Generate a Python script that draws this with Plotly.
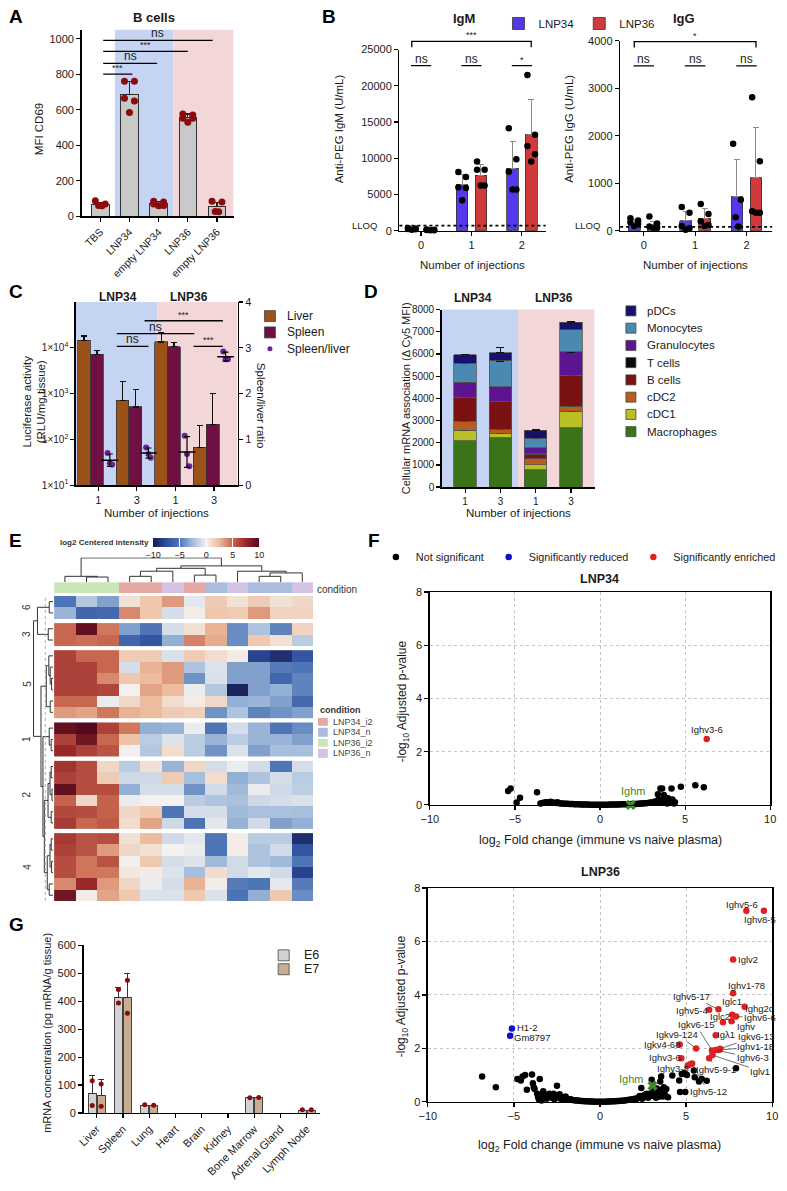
import plotly.graph_objects as go

W, H = 787, 1191
FONT = "Liberation Sans, Arial, Helvetica, sans-serif"


def xd(a, b):
    return [a / W, b / W]


def yd(top, bot):
    return [1 - bot / H, 1 - top / H]


def px(x):
    return x / W


def py(y):
    return 1 - y / H


BLUE_BG = "#c6d4f3"
PINK_BG = "#f3d6d8"
C34 = "#5638ec"
C36 = "#d03a3b"
DOT_RED = "#8b0a0a"

# ---------------- Panel A ----------------
a_cats = ["TBS", "LNP34", "empty LNP34", "LNP36", "empty LNP36"]
a_means = [70, 684, 72, 556, 55]
a_sd = [10, 76, 12, 20, 25]
a_pts = [[88, 70, 62, 60], [760, 760, 665, 650, 585], [85, 82, 70, 62, 60],
         [576, 570, 552, 552, 530], [85, 82, 28, 26]]
a_sig_x0 = [0.1, 0.1, 0.1, 0.1]
a_sig_x1 = [1.1, 1.95, 3.0, 3.85]
a_sig_y = [800, 861, 928, 990]
a_sig_txt = ["***", "ns", "***", "ns"]

# ---------------- Panel B ----------------
b_groups = [0, 1, 2]
igm34_mean = [250, 6320, 8650]
igm34_sd = [120, 1400, 3650]
igm36_mean = [110, 7650, 13250]
igm36_sd = [80, 1450, 4800]
igm34_pts = [[360, 300, 250, 200, 150], [8100, 7400, 6000, 5900, 4200], [14150, 9850, 8150, 5700, 5700]]
igm36_pts = [[180, 120, 100, 80, 50], [9550, 8400, 8400, 6250, 6250], [21500, 13250, 11700, 10550, 9550]]
igg34_mean = [150, 210, 710]
igg34_sd = [80, 200, 790]
igg36_mean = [100, 266, 1110]
igg36_sd = [100, 200, 1070]
igg34_pts = [[260, 215, 180, 140, 100], [500, 380, 100, 50, 20], [1830, 650, 285, 90]]
igg36_pts = [[300, 150, 90, 70, 60], [560, 350, 200, 120, 100], [2810, 1460, 410, 380, 380]]
igm_lloq = 700
igg_lloq = 80
igm_pair_txt = ["ns", "ns", "*"]
igm_pair_y = 22770
igm_span_y = 26130
igm_span_txt = "***"
igg_pair_txt = ["ns", "ns", "ns"]
igg_pair_y = 3470
igg_span_y = 3980
igg_span_txt = "*"

# ---------------- Panel C ----------------
c_groups = ["1", "3", "1", "3"]
liver_mean = [14500, 715, 13400, 67]
liver_err = [3600, 1130, 8000, 137]
spleen_mean = [7260, 510, 10600, 211]
spleen_err = [1590, 740, 2400, 780]
ratio_pts = [[0.7, 0.48, 0.45], [0.82, 0.68, 0.6], [1.08, 0.68, 0.41], [2.92, 2.75, 2.75]]
c_sig_x0 = [0.48, 2.47, 0.48, 1.2]
c_sig_x1 = [1.3, 3.23, 2.49, 3.23]
c_sig_y = [3.03, 3.03, 3.31, 3.59]
c_sig_txt = ["ns", "***", "ns", "***"]
c_leg_names = ["Liver", "Spleen", "Spleen/liver"]
c_leg_colors = ["#9a5219", "#700f41", "#6b2198"]

# ---------------- Panel D ----------------
d_groups = ["1", "3", "1", "3"]
d_types = ["Macrophages", "cDC1", "cDC2", "B cells", "T cells", "Granulocytes", "Monocytes", "pDCs"]
d_colors = ["#3b7318", "#b9bf25", "#b55c1e", "#7a1212", "#0a0a0a", "#5d1491", "#4a8ab0", "#17116e"]
mac = [2085, 2230, 775, 2680]
cdc1 = [480, 190, 240, 740]
cdc2 = [400, 180, 270, 230]
bcell = [1070, 1240, 180, 1380]
tcell = [20, 15, 30, 20]
gran = [670, 660, 270, 1040]
mono = [850, 1170, 430, 1000]
pdc = [400, 370, 375, 340]
mac_sd = [470, 190, 15, 0]
cdc1_sd = [0, 180, 20, 120]
cdc2_sd = [130, 0, 30, 80]
bcell_sd = [330, 220, 30, 440]
tcell_sd = [0, 0, 0, 0]
gran_sd = [150, 440, 20, 520]
mono_sd = [0, 0, 20, 0]
pdc_sd = [20, 220, 40, 25]

# ---------------- Panel E ----------------
e_group_names = ["6", "3", "5", "1", "2", "4"]
e_group_sizes = [2, 2, 6, 3, 6, 6]
e_rows = [
    [-5, -2, -3.5, 0.8, 2, 3.5, -0.5, 1.8, 0.8, 1.8, 0.8, 1.2],
    [-2.8, -6, -5.8, 4, 2, -1, 0.3, 2, 1.8, 3.5, 1.4, 1.4],
    [5, 9.5, 4.5, -3.5, -5, -1, 0.8, 2.8, -4.2, -2.2, -4.5, 1.4],
    [5, 4.8, 5, -6, -7, -3, 4.2, 3, -4.2, 1.9, 0.8, -1.8],
    [6.5, 5, 5, 1.8, 1.8, -0.8, 1.8, 1, 0.3, -8, -9, -7],
    [6.5, 6.5, 5, -1, 2.8, 3.5, -2.2, -0.7, -3.5, -3.5, -4.8, -5],
    [6.5, 6.5, 4, 2, 2.5, 3.5, -4, -0.8, -3.5, -3.5, -6, -4.5],
    [6.5, 6.5, 6.3, 0.1, 3.2, 2.5, -0.3, -2, -9.5, -3.5, -3, -4.5],
    [5, 5, -0.3, 1.2, 2.5, 1, 0.3, 1.2, -3, -2.8, -3.5, -5.8],
    [3.5, 3.2, 4.5, 2.8, 2.5, 1.8, 1.6, -4, -2.2, -4.5, -4, -3.5],
    [9.5, 10, 6.5, 4.5, -3, -2.8, -0.3, -5, -1, -2.8, -5, -4.2],
    [6.5, 9, 5, 2.2, -1.8, -0.7, -1.8, -2.8, -1.8, -2.8, -2.8, -3.5],
    [7.5, 6.5, 5.8, -0.1, -2, 1, -1.8, -4, -0.8, -3.5, -2.4, -2.4],
    [7, 6, 1.3, -1.8, 0.8, -2.8, 1.3, -1, -0.3, -1.1, -5, -1],
    [6.5, 6, 1.8, -1.2, -1.2, 1.8, -2.4, 1, -3, -2.2, -1, -1.8],
    [9.5, 6, 6, -3, -1, -1, -4, -1.1, -2.6, -0.3, -1.2, -1.7],
    [5.2, 1.2, 5.2, -0.3, 0, 0, -1.8, -2.2, -2.3, -1.2, -1, -0.8],
    [6.2, 6, 5.2, 1.3, 2, -5, -1, -1, -2.6, -2.3, -2.3, -2.4],
    [6.8, 5, 5.5, 1, 3.2, -1.2, -5.2, -0.5, -2.9, -1.1, -3.5, -3],
    [6.8, 5.8, 6, 0.8, 2.5, -1.1, -0.5, -5, 0.3, -1.8, -1.8, -9],
    [6.5, 5.8, 3.5, 1.3, 0.8, 0, -0.3, -5, 0.3, -2.2, -1.1, -7],
    [6, 4.6, 5.8, -0.1, 1.9, -1, -0.7, -2.6, -1.1, -2.2, -2.6, -5],
    [6, 4.6, 4.5, 0.5, 0.3, -0.7, -2.4, 1, -1.1, -0.5, -1.1, -8],
    [4, 7.5, 3.5, 1.3, -0.3, -1, 2.8, 0.3, -4.8, -5, -0.5, -4.8],
    [9, 0.3, 3.2, 1.9, -0.7, -0.8, 1.9, -0.8, -5.2, -3, 1.9, -4.2],
]
cond_names = ["LNP34_i2", "LNP34_n", "LNP36_i2", "LNP36_n"]
cond_colors = ["#e5a8a2", "#aabdde", "#cae6b6", "#d4c3e2"]
cond_cols = [2, 2, 2, 0, 0, 3, 0, 1, 3, 1, 1, 3]
top_link = [(1, 2, 0.21), (0, 12, 0.24), (3, 4, 0.24), (6, 7, 0.29), (14, 5, 0.45), (16, 15, 0.57),
            (9, 10, 0.24), (18, 11, 0.38), (8, 19, 0.45), (17, 20, 0.67), (13, 21, 1.0)]
left_link = [(0, 1, 0.2), (2, 3, 0.25), (25, 26, 0.8), (6, 7, 0.08), (5, 28, 0.15), (4, 29, 0.22),
             (8, 9, 0.15), (30, 31, 0.35), (11, 12, 0.1), (10, 33, 0.2), (13, 14, 0.1), (15, 16, 0.06),
             (35, 36, 0.16), (17, 18, 0.1), (37, 38, 0.26), (19, 20, 0.1), (21, 22, 0.08), (40, 41, 0.16),
             (23, 24, 0.2), (42, 43, 0.3), (39, 44, 0.45), (34, 45, 0.52), (32, 46, 0.62), (27, 47, 1.0)]

# ---------------- Panel F ----------------
ns34 = [(-5.4, 0.52), (-5.25, 0.62), (-4.9, 0.09), (-4.7, 0.27), (-3.7, 0.47),
        (-3.5, 0.05), (-3.4, 0.07), (-3.3, 0.08), (-3.2, 0.1), (-3.1, 0.1), (-3.0, 0.08), (-2.9, 0.12),
        (-2.8, 0.09), (-2.7, 0.08), (-2.6, 0.07), (-2.5, 0.1), (-2.4, 0.06), (-2.3, 0.05), (-2.2, 0.05),
        (-2.1, 0.04), (-2.0, 0.04), (-1.9, 0.04), (-1.8, 0.03), (-1.7, 0.03), (-1.6, 0.03), (-1.5, 0.02),
        (-1.4, 0.02), (-1.3, 0.02), (-1.2, 0.02), (-1.1, 0.01), (-1.0, 0.01), (-0.9, 0.01), (-0.8, 0.01),
        (-0.7, 0.01), (-0.6, 0.0), (-0.5, 0.0), (-0.4, 0.0), (-0.3, 0.0), (-0.2, 0.0), (-0.1, 0.0),
        (0.0, 0.0), (0.1, 0.0), (0.2, 0.0), (0.3, 0.0), (0.4, 0.0), (0.5, 0.0), (0.6, 0.01), (0.7, 0.01),
        (0.8, 0.01), (0.9, 0.01), (1.0, 0.01), (1.1, 0.01), (1.2, 0.02), (1.3, 0.02), (1.4, 0.02),
        (1.5, 0.02), (1.6, 0.02), (1.7, 0.02), (1.8, 0.03), (1.9, 0.03), (2.0, 0.03), (2.1, 0.03),
        (2.2, 0.04), (2.3, 0.04), (2.4, 0.05), (2.5, 0.05), (2.6, 0.06), (2.7, 0.06), (2.8, 0.07),
        (2.9, 0.08), (3.0, 0.09), (3.1, 0.1), (3.2, 0.12), (3.25, 0.08), (3.3, 0.14), (3.4, 0.4),
        (3.45, 0.2), (3.5, 0.1), (3.55, 0.62), (3.6, 0.15), (3.65, 0.62), (3.7, 0.08), (3.75, 0.37),
        (3.8, 0.3), (3.85, 0.12), (3.9, 0.2), (3.95, 0.05), (4.0, 0.25), (4.05, 0.1), (4.1, 0.15),
        (4.2, 0.62), (4.25, 0.2), (4.3, 0.12), (4.35, 0.05), (4.4, 0.1), (4.75, 0.68), (5.6, 0.74),
        (6.1, 0.66)]
red34_names = ["Ighv3-6"]
red34_x = [6.27]
red34_y = [2.48]
ighm34 = (1.8, 0.0)
ns36 = [(-6.85, 0.95), (-6.05, 0.55), (-4.8, 0.85), (-4.6, 0.8), (-4.5, 0.95), (-4.35, 1.0), (-4.25, 0.45),
        (-3.95, 1.02), (-3.9, 0.7), (-3.85, 0.55), (-3.8, 0.48), (-3.65, 0.3), (-3.6, 0.18), (-3.55, 0.1),
        (-3.5, 0.85), (-3.45, 0.15), (-3.4, 0.05), (-3.35, 0.3), (-3.3, 0.4), (-3.25, 0.22), (-3.15, 0.25),
        (-3.1, 0.12), (-3.0, 0.2), (-2.95, 0.3), (-2.85, 0.25), (-2.8, 0.15), (-2.7, 0.3), (-2.65, 0.1),
        (-2.55, 0.2), (-2.5, 0.6), (-2.45, 0.25), (-2.35, 0.28), (-2.3, 0.12), (-2.2, 0.18), (-2.1, 0.1),
        (-2.0, 0.2), (-1.9, 0.12), (-1.8, 0.08), (-1.7, 0.1), (-1.6, 0.07), (-1.5, 0.06), (-1.4, 0.05),
        (-1.3, 0.05), (-1.2, 0.04), (-1.1, 0.03), (-1.0, 0.03), (-0.9, 0.02), (-0.8, 0.02), (-0.7, 0.02),
        (-0.6, 0.01), (-0.5, 0.01), (-0.4, 0.01), (-0.3, 0.0), (-0.2, 0.0), (-0.1, 0.0), (0.0, 0.0),
        (0.1, 0.0), (0.2, 0.0), (0.3, 0.0), (0.4, 0.01), (0.5, 0.01), (0.6, 0.01), (0.7, 0.02), (0.8, 0.02),
        (0.9, 0.02), (1.0, 0.03), (1.1, 0.03), (1.2, 0.04), (1.3, 0.04), (1.4, 0.05), (1.5, 0.06),
        (1.6, 0.07), (1.7, 0.08), (1.8, 0.09), (1.9, 0.1), (2.0, 0.12), (2.1, 0.1), (2.2, 0.15), (2.3, 0.22),
        (2.4, 0.52), (2.45, 0.12), (2.55, 0.25), (2.6, 0.18), (2.7, 0.3), (2.8, 0.15), (2.9, 0.3),
        (2.95, 0.22), (3.0, 0.83), (3.05, 0.4), (3.1, 0.25), (3.2, 0.28), (3.25, 0.15), (3.3, 0.5),
        (3.4, 0.3), (3.45, 0.2), (3.5, 0.76), (3.55, 0.95), (3.6, 0.45), (3.65, 0.2), (3.7, 0.55),
        (3.75, 0.3), (3.8, 0.22), (3.85, 0.48), (3.95, 0.17), (4.2, 0.99), (4.6, 0.8), (4.65, 0.37),
        (4.75, 1.04), (4.9, 1.08), (4.95, 0.37), (5.05, 1.0), (5.45, 1.17), (5.5, 0.92), (5.75, 0.76),
        (5.9, 0.86), (6.2, 0.79), (7.9, 1.26)]
blue36_names = ["H1-2", "Gm8797"]
blue36_x = [-5.12, -5.22]
blue36_y = [2.74, 2.47]
red36_names = ["Ighv5-6", "Ighv8-5", "Iglv2", "Ighv1-78", "Ighg2c", "Ighv5-17", "Ighv5-4", "Iglc1",
               "Ighv6-6", "Iglc2", "Ighv", "Igλ1", "Igkv6-15", "Igkv9-124", "Igkv4-68", "Igkv6-13",
               "Ighv1-18", "Ighv6-3", "Iglv1", "Ighv5-9-1", "Ighv3-6", "Ighv3-8", "Ighv5-12", ""]
red36_x = [8.5, 9.52, 7.73, 7.73, 8.4, 6.88, 6.34, 7.68, 7.9, 7.14, 7.64, 6.72, 6.5, 5.58, 4.63, 6.97,
           6.91, 6.72, 6.53, 6.34, 4.72, 5.24, 5.35, 5.1]
red36_y = [7.15, 7.15, 5.33, 4.06, 3.56, 3.46, 3.45, 3.26, 3.19, 2.98, 3.02, 2.49, 1.92, 2.0, 2.15, 1.99,
           1.94, 1.94, 1.75, 1.63, 1.63, 1.41, 1.43, 1.36]
# label placement (pixel offsets of the label centre, leader line flag)
red36_dx = [-4, -4, 15, 13, 15, -27, -17, 0, 24, -3, 14, 10, -16, -19, -18, 36, 37, 37, 48, 7, -16, -17, 16, 0]
red36_dy = [-6, 9, 0, -8, 2, -13, 1, -13, 1, -6, 5, -1, -26, -14, 0, -12, -3, 8, 16, 11, -1, 4, 28, 0]
red36_line = [0, 0, 0, 0, 0, 1, 0, 0, 1, 0, 1, 0, 1, 1, 0, 1, 1, 1, 1, 1, 0, 0, 1, 0]
ighm36 = (3.05, 0.6)

# ---------------- Panel G ----------------
g_organs = ["Liver", "Spleen", "Lung", "Heart", "Brain", "Kidney", "Bone Marrow", "Adrenal Gland", "Lymph Node"]
e6_mean = [71, 415, 28, 0, 0, 0, 55, 0, 10]
e6_err = [62, 35, 0, 0, 0, 0, 0, 0, 0]
e7_mean = [64, 415, 26, 0, 0, 0, 56, 0, 10]
e7_err = [56, 85, 0, 0, 0, 0, 0, 0, 0]
e6_pts = [[116, 27], [442, 394], [30], [], [], [], [55], [], [12]]
e7_pts = [[104, 24], [475, 357], [28], [], [], [], [56], [], [12]]
g_leg_names = ["E6", "E7"]
g_colors = ["#d2d2d2", "#c8ae91"]

# ======================================================================
fig = go.Figure()
annotations = []
shapes = []


def ann(text, x, y, size=11, bold=False, xanchor="center", yanchor="middle", xref="paper", yref="paper",
        textangle=0, color="#1a1a1a", **kw):
    if bold:
        text = "<b>" + text + "</b>"
    d = dict(text=text, x=x, y=y, xref=xref, yref=yref, showarrow=False,
             font=dict(size=size, color=color, family=FONT), xanchor=xanchor, yanchor=yanchor,
             textangle=textangle)
    d.update(kw)
    annotations.append(d)


def pann(text, xp, yp, **kw):
    ann(text, px(xp), py(yp), **kw)


def spread(n, w):
    pats = {1: [0], 2: [-0.5, 0.5], 3: [-1, 0, 1], 4: [-1, 1, -0.35, 0.35], 5: [-1, 1, -1, 1, 0]}
    return [p * w for p in pats[n]]


def dots(groups_x, pts, w, xa, ya, color, size):
    xs, ys = [], []
    for gx, p in zip(groups_x, pts):
        if not p:
            continue
        for o, v in zip(spread(len(p), w), p):
            xs.append(gx + o)
            ys.append(v)
    fig.add_trace(go.Scatter(x=xs, y=ys, mode="markers", xaxis=xa, yaxis=ya, showlegend=False,
                             cliponaxis=False, marker=dict(color=color, size=size, opacity=1,
                                                           line=dict(width=0))))


def bracket_lines(x0s, x1s, ys, xa, ya, tick=0.0):
    xs, yy = [], []
    for a, b, y in zip(x0s, x1s, ys):
        if tick:
            xs += [a, a, b, b, None]
            yy += [y - tick, y, y, y - tick, None]
        else:
            xs += [a, b, None]
            yy += [y, y, None]
    fig.add_trace(go.Scatter(x=xs, y=yy, mode="lines", xaxis=xa, yaxis=ya, showlegend=False,
                             line=dict(color="black", width=1.3), hoverinfo="skip"))


def sig_text(x0s, x1s, ys, txts, xref, yref):
    for a, b, y, t in zip(x0s, x1s, ys, txts):
        ann(t, (a + b) / 2, y, size=(12 if t == "ns" else 9), xref=xref, yref=yref, yanchor="bottom",
            yshift=-2 if t == "ns" else -1)


def bg(xref, yref, x0, x1, color):
    shapes.append(dict(type="rect", xref=xref, yref=yref, x0=x0, x1=x1, y0=0, y1=1,
                       fillcolor=color, line=dict(width=0), layer="below"))


def key(names, colors, symbols, sizes, xa, ya, text_x, font_size):
    """Legend key drawn as markers on a hidden axis, one row per entry."""
    n = len(names)
    fig.add_trace(go.Scatter(x=[0] * n, y=list(range(n)), mode="markers", xaxis=xa, yaxis=ya,
                             showlegend=False, cliponaxis=False, hoverinfo="skip",
                             marker=dict(color=colors, symbol=symbols, size=sizes, opacity=1,
                                         line=dict(color="#444", width=[0.8 if s == "square" else 0
                                                                        for s in symbols]))))
    for i, nm in enumerate(names):
        ann(nm, px(text_x), i, size=font_size, xanchor="left", yref=ya)


# ---------------- Panel A traces ----------------
a_x = list(range(len(a_cats)))
fig.add_trace(go.Bar(x=a_x, y=a_means, width=0.6, xaxis="x", yaxis="y", showlegend=False,
                     marker=dict(color="#c9c9c9", line=dict(color="#333", width=1)),
                     error_y=dict(type="data", array=a_sd, arrayminus=[0] * 5, symmetric=False,
                                  color="#222", thickness=1.2, width=4)))
dots(a_x, a_pts, 0.17, "x", "y", DOT_RED, 7)
bracket_lines(a_sig_x0, a_sig_x1, a_sig_y, "x", "y")
sig_text(a_sig_x0, a_sig_x1, a_sig_y, a_sig_txt, "x", "y")
bg("x", "y domain", 0.5, 2.5, BLUE_BG)
bg("x", "y domain", 2.5, 4.57, PINK_BG)

# ---------------- Panel B traces ----------------
b_off, b_w = 0.185, 0.23
bx34 = [g - b_off for g in b_groups]
bx36 = [g + b_off for g in b_groups]
for xa, ya, m34, s34, m36, s36, p34, p36, leg in [
        ("x2", "y2", igm34_mean, igm34_sd, igm36_mean, igm36_sd, igm34_pts, igm36_pts, True),
        ("x3", "y3", igg34_mean, igg34_sd, igg36_mean, igg36_sd, igg34_pts, igg36_pts, False)]:
    fig.add_trace(go.Bar(x=bx34, y=m34, width=b_w, name="LNP34", xaxis=xa, yaxis=ya, showlegend=leg,
                         legend="legend", marker=dict(color=C34, line=dict(color="#333", width=0.8)),
                         error_y=dict(type="data", array=s34, arrayminus=[0] * 3, symmetric=False,
                                      color="#8a8a8a", thickness=1, width=3)))
    fig.add_trace(go.Bar(x=bx36, y=m36, width=b_w, name="LNP36", xaxis=xa, yaxis=ya, showlegend=leg,
                         legend="legend", marker=dict(color=C36, line=dict(color="#333", width=0.8)),
                         error_y=dict(type="data", array=s36, arrayminus=[0] * 3, symmetric=False,
                                      color="#8a8a8a", thickness=1, width=3)))
    dots(bx34, p34, 0.075, xa, ya, "black", 6.5)
    dots(bx36, p36, 0.075, xa, ya, "black", 6.5)

shapes.append(dict(type="line", xref="x2 domain", yref="y2", x0=0, x1=1, y0=igm_lloq, y1=igm_lloq,
                   line=dict(color="black", width=1.8, dash="dot")))
shapes.append(dict(type="line", xref="x3 domain", yref="y3", x0=0, x1=1, y0=igg_lloq, y1=igg_lloq,
                   line=dict(color="black", width=1.8, dash="dot")))
for xa, ya, yref, pair_y, pair_txt, span_y, span_txt, tick in [
        ("x2", "y14", "y14", igm_pair_y, igm_pair_txt, igm_span_y, igm_span_txt, 820),
        ("x3", "y15", "y15", igg_pair_y, igg_pair_txt, igg_span_y, igg_span_txt, 125)]:
    bx0 = [g - 0.2 for g in b_groups]
    bx1 = [g + 0.2 for g in b_groups]
    bracket_lines(bx0, bx1, [pair_y] * 3, xa, ya)
    sig_text(bx0, bx1, [pair_y] * 3, pair_txt, xa, yref)
    bracket_lines([bx34[0]], [bx36[-1]], [span_y], xa, ya, tick=tick)
    sig_text([bx34[0]], [bx36[-1]], [span_y], [span_txt], xa, yref)

# ---------------- Panel C traces ----------------
c_x = list(range(len(c_groups)))
liv_x = [g - 0.37 for g in c_x]
spl_x = [g - 0.035 for g in c_x]
rat_x = [g + 0.3 for g in c_x]
fig.add_trace(go.Bar(x=liv_x, y=liver_mean, width=0.33, name="Liver", xaxis="x4", yaxis="y4",
                     showlegend=False, marker=dict(color=c_leg_colors[0], line=dict(color="#333", width=0.8)),
                     error_y=dict(type="data", array=liver_err, arrayminus=[0] * 4, symmetric=False,
                                  color="#111", thickness=1.2, width=3)))
fig.add_trace(go.Bar(x=spl_x, y=spleen_mean, width=0.33, name="Spleen", xaxis="x4", yaxis="y4",
                     showlegend=False, marker=dict(color=c_leg_colors[1], line=dict(color="#333", width=0.8)),
                     error_y=dict(type="data", array=spleen_err, arrayminus=[0] * 4, symmetric=False,
                                  color="#111", thickness=1.2, width=3)))
rx, ry = [], []
for gx, p in zip(rat_x, ratio_pts):
    for o, v in zip(spread(len(p), 0.06), p):
        rx.append(gx + o)
        ry.append(v)
fig.add_trace(go.Scatter(x=rx, y=ry, mode="markers", name="Spleen/liver", xaxis="x4", yaxis="y5",
                         showlegend=False, cliponaxis=False,
                         marker=dict(color=c_leg_colors[2], size=6, opacity=1)))
r_mean = [sum(p) / len(p) for p in ratio_pts]
r_sd = [(sum((v - m) ** 2 for v in p) / (len(p) - 1)) ** 0.5 for p, m in zip(ratio_pts, r_mean)]
fig.add_trace(go.Scatter(x=rat_x, y=r_mean, mode="markers", xaxis="x4", yaxis="y5", showlegend=False,
                         marker=dict(symbol="line-ew", size=12, line=dict(color="black", width=1.5)),
                         error_y=dict(type="data", array=r_sd, color="black", thickness=1.2, width=3)))
bracket_lines(c_sig_x0, c_sig_x1, c_sig_y, "x4", "y5")
sig_text(c_sig_x0, c_sig_x1, c_sig_y, c_sig_txt, "x4", "y5")
bg("x4", "y4 domain", -0.585, 1.53, BLUE_BG)
bg("x4", "y4 domain", 1.53, 3.61, PINK_BG)
key(c_leg_names, c_leg_colors, ["square", "square", "circle"], [11, 11, 5], "x17", "y17", 281, 12)

# ---------------- Panel D traces ----------------
d_x = list(range(len(d_groups)))
d_vals = [mac, cdc1, cdc2, bcell, tcell, gran, mono, pdc]
d_errs = [mac_sd, cdc1_sd, cdc2_sd, bcell_sd, tcell_sd, gran_sd, mono_sd, pdc_sd]
for name, col, v, e in zip(d_types, d_colors, d_vals, d_errs):
    fig.add_trace(go.Bar(x=d_x, y=v, width=0.64, name=name, xaxis="x6", yaxis="y6", showlegend=False,
                         marker=dict(color=col, line=dict(color="#555", width=0.8)),
                         error_y=dict(type="data", array=e, arrayminus=[0] * 4, symmetric=False,
                                      color="#111", thickness=1.1, width=4)))
bg("x6", "y6 domain", -0.667, 1.5, BLUE_BG)
bg("x6", "y6 domain", 1.5, 3.67, PINK_BG)
key(d_types[::-1], d_colors[::-1], ["square"] * 8, [10] * 8, "x18", "y18", 648, 11.5)

# ---------------- Panel E traces ----------------
E_CS = [[0, "#161b4d"], [0.125, "#2f4d9e"], [0.25, "#4e76b6"], [0.375, "#a3bddb"], [0.5, "#f4f2f0"],
        [0.625, "#ecbc9c"], [0.75, "#c8674f"], [0.875, "#99282a"], [1, "#560a1e"]]
gap = 0.4
row_y, grp_center = [], []
pos = 0.0
for n in e_group_sizes:
    for k in range(n):
        row_y.append(pos + k)
    grp_center.append(pos + (n - 1) / 2)
    pos += n + gap
e_total = pos - gap
start = 0
for gi, n in enumerate(e_group_sizes):
    fig.add_trace(go.Heatmap(z=e_rows[start:start + n], x=list(range(12)), y=row_y[start:start + n],
                             xaxis="x7", yaxis="y7", colorscale=E_CS, zmin=-10, zmax=10,
                             showscale=(gi == 0), hoverinfo="skip",
                             colorbar=dict(orientation="h", x=px(201), xanchor="center", y=py(537),
                                           yanchor="top", len=108 / W, lenmode="fraction", thickness=9,
                                           thicknessmode="pixels", tickvals=[-10, -5, 0, 5, 10],
                                           tickfont=dict(size=9, family=FONT, color="#222"),
                                           outlinewidth=0, ticks="inside", ticklen=9, tickcolor="white",
                                           xpad=0, ypad=0)))
    start += n
n_cond = len(cond_names)
cond_cs = []
for i, c in enumerate(cond_colors):
    cond_cs += [[i / n_cond, c], [(i + 1) / n_cond, c]]
fig.add_trace(go.Heatmap(z=[cond_cols], x=list(range(12)), y=[0], xaxis="x9", yaxis="y9",
                         colorscale=cond_cs, zmin=-0.5, zmax=n_cond - 0.5, showscale=False, hoverinfo="skip"))
fig.add_trace(go.Heatmap(z=[[i] for i in range(n_cond)], x=[0], y=list(range(n_cond)), xaxis="x16",
                         yaxis="y16", colorscale=cond_cs, zmin=-0.5, zmax=n_cond - 0.5, showscale=False,
                         ygap=2, hoverinfo="skip"))
for i, nm in enumerate(cond_names):
    ann(nm, px(328), i, size=9, xanchor="left", yref="y16", color="#444")
pann("condition", 315, 711, size=9, bold=True, xanchor="left", color="#333")


def dendro(link, leaf_pos):
    pos_ = {i: p for i, p in enumerate(leaf_pos)}
    hgt = {i: 0.0 for i in range(len(leaf_pos))}
    nid = len(leaf_pos)
    P, Hh = [], []
    for a, b, h in link:
        P += [pos_[a], pos_[a], pos_[b], pos_[b], None]
        Hh += [hgt[a], h, h, hgt[b], None]
        pos_[nid] = (pos_[a] + pos_[b]) / 2
        hgt[nid] = h
        nid += 1
    return P, Hh


tp, th = dendro(top_link, list(range(12)))
fig.add_trace(go.Scatter(x=tp, y=th, mode="lines", xaxis="x8", yaxis="y8", showlegend=False,
                         line=dict(color="#333", width=1), hoverinfo="skip"))
lp, lh = dendro(left_link, row_y)
fig.add_trace(go.Scatter(x=lh, y=lp, mode="lines", xaxis="x10", yaxis="y10", showlegend=False,
                         line=dict(color="#333", width=1), hoverinfo="skip"))
shapes.append(dict(type="line", xref="x10", yref="y10 domain", x0=0.4, x1=0.4, y0=0, y1=1,
                   line=dict(color="#aaaaaa", width=1, dash="dot")))
for nm, c in zip(e_group_names, grp_center):
    ann(nm, px(18), c, size=10, xref="paper", yref="y10", textangle=-90, color="#333")
pann("log2 Centered intensity", 145, 542, size=8, bold=True, xanchor="right", color="#333")
pann("condition", 312, 589, size=10, xanchor="left", color="#333")

# ---------------- Panel F traces ----------------
for xa, ya, ns, rxs, rys, ighm, leg in [
        ("x11", "y11", ns34, red34_x, red34_y, ighm34, True),
        ("x12", "y12", ns36, red36_x, red36_y, ighm36, False)]:
    fig.add_trace(go.Scatter(x=[p[0] for p in ns], y=[p[1] for p in ns], mode="markers", xaxis=xa,
                             yaxis=ya, name="Not significant", legend="legend4", showlegend=leg,
                             cliponaxis=False, marker=dict(color="black", size=6.5)))
    if not leg:
        fig.add_trace(go.Scatter(x=blue36_x, y=blue36_y, mode="markers", xaxis=xa, yaxis=ya,
                                 name="Significantly reduced", legend="legend4", showlegend=True,
                                 cliponaxis=False, marker=dict(color="#1010c8", size=6.5)))
    fig.add_trace(go.Scatter(x=rxs, y=rys, mode="markers", xaxis=xa, yaxis=ya,
                             name="Significantly enriched", legend="legend4", showlegend=not leg,
                             cliponaxis=False, marker=dict(color="#e02020", size=6.5)))
    fig.add_trace(go.Scatter(x=[ighm[0]], y=[ighm[1]], mode="markers", xaxis=xa, yaxis=ya, showlegend=False,
                             cliponaxis=False, marker=dict(color="#3d8a28", size=9, symbol="x",
                                                           line=dict(width=0))))

ann(red34_names[0], red34_x[0], red34_y[0], size=9.5, xref="x11", yref="y11", yshift=9)
ann("Ighm", ighm34[0], ighm34[1], size=11, xref="x11", yref="y11", yshift=14, xshift=2, color="#3d8a28")
ann("Ighm", ighm36[0], ighm36[1], size=11, xref="x12", yref="y12", yshift=7, xshift=-22, color="#3d8a28")
for nm, x, y, dx, dy in zip(blue36_names, blue36_x, blue36_y, [16, 22], [-1, 2]):
    ann(nm, x, y, size=9.5, xref="x12", yref="y12", xshift=dx, yshift=-dy, xanchor="center")
for nm, x, y, dx, dy, ln in zip(red36_names, red36_x, red36_y, red36_dx, red36_dy, red36_line):
    if not nm:
        continue
    if ln:
        annotations.append(dict(text=nm, x=x, y=y, xref="x12", yref="y12", showarrow=True, arrowhead=0,
                                arrowwidth=0.7, arrowcolor="#333", ax=dx, ay=dy, standoff=2,
                                font=dict(size=9.5, family=FONT, color="#222")))
    else:
        ann(nm, x, y, size=9.5, xref="x12", yref="y12", xshift=dx, yshift=-dy)

# ---------------- Panel G traces ----------------
g_x = list(range(len(g_organs)))
e6_x = [g - 0.17 for g in g_x]
e7_x = [g + 0.17 for g in g_x]
fig.add_trace(go.Bar(x=e6_x, y=e6_mean, width=0.31, name="E6", xaxis="x13", yaxis="y13", showlegend=False,
                     marker=dict(color=g_colors[0], line=dict(color="#444", width=1)),
                     error_y=dict(type="data", array=e6_err, arrayminus=[0] * 9, symmetric=False,
                                  color="#333", thickness=1, width=3)))
fig.add_trace(go.Bar(x=e7_x, y=e7_mean, width=0.31, name="E7", xaxis="x13", yaxis="y13", showlegend=False,
                     marker=dict(color=g_colors[1], line=dict(color="#444", width=1)),
                     error_y=dict(type="data", array=e7_err, arrayminus=[0] * 9, symmetric=False,
                                  color="#333", thickness=1, width=3)))
dots(e6_x, e6_pts, 0.0, "x13", "y13", DOT_RED, 5)
dots(e7_x, e7_pts, 0.0, "x13", "y13", DOT_RED, 5)
key(g_leg_names, g_colors, ["square", "square"], [11, 11], "x19", "y19", 299, 12.5)

# ---------------- text: titles and axis titles ----------------
for t, xx, yy in [("A", 7, 11), ("B", 326, 11), ("C", 7, 288), ("D", 369, 288), ("E", 7, 540),
                  ("F", 372, 540), ("G", 8, 928)]:
    pann(t, xx, yy, size=19, bold=True, color="black")
pann("B cells", 148, 12, size=13, bold=True)
pann("MFI CD69", 30, 124, size=11.5, textangle=-90)
pann("IgM", 464, 13, size=13, bold=True)
pann("IgG", 688, 13, size=13, bold=True)
pann("Anti-PEG IgM (U/mL)", 336, 124, size=11.5, textangle=-90)
pann("Anti-PEG IgG (U/mL)", 571, 124, size=11.5, textangle=-90)
pann("LLOQ", 377, 222, size=9.5, xanchor="right")
pann("LLOQ", 605, 222, size=9.5, xanchor="right")
pann("Number of injections", 472, 262, size=11.5)
pann("Number of injections", 700, 262, size=11.5)
pann("LNP34", 111, 294, size=12, bold=True)
pann("LNP36", 184, 294, size=12, bold=True)
pann("Luciferase activity<br>(RLU/mg tissue)", 26, 400, size=11.5, textangle=-90)
pann("Spleen/liver ratio", 257, 404, size=11.5, textangle=90)
pann("Number of injections", 150, 512, size=11.5)
pann("LNP34", 473, 295, size=12, bold=True)
pann("LNP36", 556, 295, size=12, bold=True)
pann("Cellular mRNA association (Δ Cy5 MFI)", 405, 396, size=11, textangle=-90)
pann("Number of injections", 519, 512, size=11.5)
pann("LNP34", 602, 579, size=12.5, bold=True)
pann("LNP36", 603, 875, size=12.5, bold=True)
pann("-log<sub>10</sub> Adjusted p-value", 402, 702, size=12, textangle=-90)
pann("-log<sub>10</sub> Adjusted p-value", 401, 1000, size=12, textangle=-90)
pann("log<sub>2</sub> Fold change (immune vs naive plasma)", 603, 843, size=12.5)
pann("log<sub>2</sub> Fold change (immune vs naive plasma)", 602, 1152, size=12.5)
pann("mRNA concentration (pg mRNA/g tissue)", 38, 1037, size=11, textangle=-90)

# ---------------- axes ----------------
TF = dict(family=FONT, size=11, color="#1a1a1a")


def AX(**kw):
    d = dict(showgrid=False, zeroline=False, showline=True, linecolor="black", linewidth=1.4,
             ticks="outside", ticklen=4, tickwidth=1.2, tickcolor="black", tickfont=TF)
    d.update(kw)
    return d


def FAX(**kw):
    d = AX(showgrid=True, gridcolor="#c4c4c4", griddash="dot", gridwidth=1, mirror=True)
    d.update(kw)
    return d


HID = dict(visible=False, showgrid=False, zeroline=False)
TF10 = dict(family=FONT, size=10, color="#1a1a1a")
lay = {}
lay["xaxis"] = AX(domain=xd(74, 229), range=[-0.64, 4.57], tickvals=a_x, ticktext=a_cats, tickangle=-45,
                  anchor="y", tickfont=dict(family=FONT, size=10.5, color="#1a1a1a"))
lay["yaxis"] = AX(domain=yd(24, 212.6), range=[0, 1050], tickvals=[0, 200, 400, 600, 800, 1000], anchor="x")
lay["xaxis2"] = AX(domain=xd(398, 547), range=[-0.43, 2.47], tickvals=b_groups, anchor="y2")
lay["yaxis2"] = AX(domain=yd(44, 227), range=[0, 25000], tickvals=[0, 5000, 10000, 15000, 20000, 25000],
                   tickformat="d", anchor="x2")
lay["xaxis3"] = AX(domain=xd(623, 778), range=[-0.46, 2.5], tickvals=b_groups, anchor="y3")
lay["yaxis3"] = AX(domain=yd(35, 227), range=[0, 4000], tickvals=[0, 1000, 2000, 3000, 4000],
                   tickformat="d", anchor="x3")
lay["yaxis14"] = dict(HID, domain=yd(8, 227), range=[0, 219 / 36.6 * 5000], anchor="x2")
lay["yaxis15"] = dict(HID, domain=yd(8, 227), range=[0, 219 / 48 * 1000], anchor="x3")
lay["xaxis4"] = AX(domain=xd(68, 233), range=[-0.585, 3.61], tickvals=c_x, ticktext=c_groups, anchor="y4")
lay["yaxis4"] = AX(domain=yd(299, 484), type="log", range=[1, 5], tickvals=[10, 100, 1000, 10000],
                   ticktext=["1×10<sup>1</sup>", "1×10<sup>2</sup>", "1×10<sup>3</sup>", "1×10<sup>4</sup>"],
                   anchor="x4", tickfont=TF10)
lay["yaxis5"] = AX(range=[0, 4], tickvals=[0, 1, 2, 3, 4], overlaying="y4", side="right", anchor="x4")
lay["xaxis6"] = AX(domain=xd(441, 597), range=[-0.667, 3.67], tickvals=d_x, ticktext=d_groups, anchor="y6",
                   tickfont=TF10)
lay["yaxis6"] = AX(domain=yd(306.7, 486), range=[0, 8000], tick0=0, dtick=1000, anchor="x6", tickfont=TF10)
lay["xaxis7"] = dict(HID, domain=xd(46, 310), range=[-0.5, 11.5], anchor="y7")
lay["yaxis7"] = dict(HID, domain=yd(596, 904), range=[e_total - 0.5, -0.5], anchor="x7")
lay["xaxis8"] = dict(HID, domain=xd(46, 310), range=[-0.5, 11.5], anchor="y8")
lay["yaxis8"] = dict(HID, domain=yd(557, 582), range=[0, 1.02], anchor="x8")
lay["xaxis9"] = dict(HID, domain=xd(46, 310), range=[-0.5, 11.5], anchor="y9")
lay["yaxis9"] = dict(HID, domain=yd(582, 593), range=[-0.5, 0.5], anchor="x9")
lay["xaxis10"] = dict(HID, domain=xd(24, 45), range=[1.05, 0], anchor="y10")
lay["yaxis10"] = dict(HID, domain=yd(596, 904), range=[e_total - 0.5, -0.5], anchor="x10")
lay["xaxis16"] = dict(HID, domain=xd(315, 325), range=[-0.5, 0.5], anchor="y16")
lay["yaxis16"] = dict(HID, domain=yd(718, 760), range=[n_cond - 0.5, -0.5], anchor="x16")
# legend-key axes (C, D, G)
lay["xaxis17"] = dict(HID, domain=xd(260, 272), range=[-0.5, 0.5], anchor="y17")
lay["yaxis17"] = dict(HID, domain=yd(305, 354.5), range=[2.5, -0.5], anchor="x17")
lay["xaxis18"] = dict(HID, domain=xd(628, 640), range=[-0.5, 0.5], anchor="y18")
lay["yaxis18"] = dict(HID, domain=yd(299.3, 438.7), range=[7.5, -0.5], anchor="x18")
lay["xaxis19"] = dict(HID, domain=xd(274, 286), range=[-0.5, 0.5], anchor="y19")
lay["yaxis19"] = dict(HID, domain=yd(952, 980), range=[1.5, -0.5], anchor="x19")
lay["xaxis11"] = FAX(domain=xd(429, 776), range=[-10, 10], dtick=5, tick0=0, anchor="y11")
lay["yaxis11"] = FAX(domain=yd(592, 807), range=[0, 8], dtick=2, tick0=0, anchor="x11")
lay["xaxis12"] = FAX(domain=xd(427, 778), range=[-10, 10], dtick=5, tick0=0, anchor="y12")
lay["yaxis12"] = FAX(domain=yd(891, 1107), range=[0, 8], dtick=2, tick0=0, anchor="x12")
lay["xaxis13"] = AX(domain=xd(76, 317), range=[-0.5, 8.5], tickvals=g_x, ticktext=g_organs, tickangle=-45,
                    anchor="y13", tickfont=dict(family=FONT, size=11, color="#1a1a1a"))
lay["yaxis13"] = AX(domain=yd(949, 1118.3), range=[0, 600], tick0=0, dtick=100, anchor="x13")

LEG = dict(bgcolor="rgba(0,0,0,0)", borderwidth=0, itemwidth=30, tracegroupgap=0,
           itemclick=False, itemdoubleclick=False, traceorder="normal")
fig.update_layout(
    width=W, height=H, margin=dict(l=0, r=0, t=0, b=0, pad=0),
    paper_bgcolor="white", plot_bgcolor="rgba(0,0,0,0)",
    barmode="stack", bargap=0,
    font=dict(family=FONT, size=11, color="#1a1a1a"),
    showlegend=True,
    legend=dict(LEG, orientation="h", x=px(499), y=py(3), xanchor="left", yanchor="top",
                font=dict(family=FONT, size=11.5)),
    legend4=dict(LEG, orientation="h", x=px(374), y=py(542), xanchor="left", yanchor="top",
                 itemsizing="trace", font=dict(family=FONT, size=10.8)),
    annotations=annotations, shapes=shapes,
    **lay,
)

fig.write_html("out.html", config={"displayModeBar": False, "staticPlot": True},
               post_script="document.body.style.margin='0px';")
